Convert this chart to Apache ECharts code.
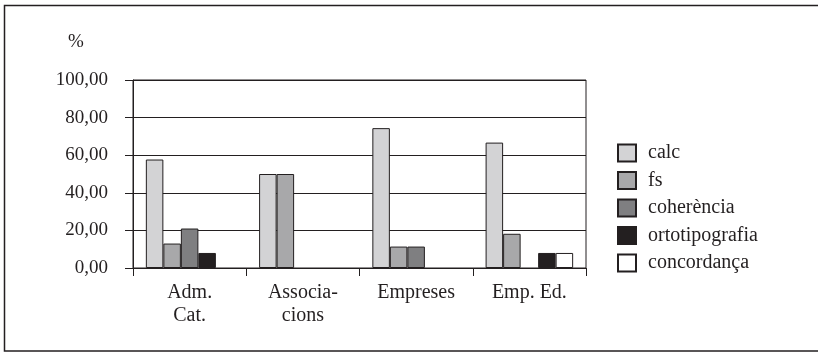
<!DOCTYPE html>
<html>
<head>
<meta charset="utf-8">
<script src="https://cdn.jsdelivr.net/npm/echarts@6/dist/echarts.min.js"></script>
<style>
  html, body { margin: 0; padding: 0; background: #fff; }
  #chart { width: 818px; height: 353px; }
</style>
</head>
<body>
<div id="chart"></div>
<script>
// Categories (organisation types) and share of each error type, in %
const categories = ['Adm.\nCat.', 'Associa-\ncions', 'Empreses', 'Emp. Ed.'];
const calc = [57.7, 50.0, 74.4, 66.7];
const fs = [13.0, 50.0, 11.4, 18.2];
const coherencia = [21.0, null, 11.4, null];
const ortotipografia = [8.0, null, null, 8.0];
const concordanca = [null, null, null, 8.0];
const yTicks = [0, 20, 40, 60, 80, 100];

const seriesDefs = [
  { name: 'calc', data: calc, color: '#d3d3d5' },
  { name: 'fs', data: fs, color: '#a8a8aa' },
  { name: 'coherència', data: coherencia, color: '#7f7f81' },
  { name: 'ortotipografia', data: ortotipografia, color: '#231f20' },
  { name: 'concordança', data: concordanca, color: '#ffffff' }
];

const FONT = 'Liberation Serif';
const INK = '#231f20';

const chart = echarts.init(document.getElementById('chart'), null, { renderer: 'canvas' });

chart.setOption({
  animation: false,
  backgroundColor: '#fff',
  textStyle: { fontFamily: FONT, color: INK },
  graphic: [
    {
      type: 'rect',
      shape: { x: 4.5, y: 5.5, width: 830, height: 345.5 },
      style: { fill: 'none', stroke: INK, lineWidth: 1.5 },
      silent: true
    },
    {
      type: 'text',
      left: 68, top: 33,
      style: { text: '%', font: '19px "' + FONT + '"', fill: INK }
    }
  ],
  grid: {
    left: 133, right: 232, top: 80, bottom: 85,
    show: true, borderColor: INK, borderWidth: 1
  },
  legend: {
    orient: 'vertical',
    left: 617, top: 143,
    padding: 0,
    itemWidth: 18, itemHeight: 17, itemGap: 7.5,
    icon: 'rect',
    textStyle: { fontFamily: FONT, fontSize: 20, color: INK, padding: [0, 0, 0, 7] },
    data: seriesDefs.map(s => s.name)
  },
  xAxis: {
    type: 'category',
    data: categories,
    axisLine: { lineStyle: { color: INK, width: 1 } },
    axisTick: { show: true, length: 8, lineStyle: { color: INK } },
    axisLabel: {
      margin: 13, fontFamily: FONT, fontSize: 20, color: INK, lineHeight: 23,
      interval: 0
    }
  },
  yAxis: {
    type: 'value',
    min: yTicks[0], max: yTicks[yTicks.length - 1], interval: 20,
    axisLine: { show: true, lineStyle: { color: INK, width: 1 } },
    axisTick: { show: true, length: 8, lineStyle: { color: INK } },
    splitLine: { lineStyle: { color: INK, width: 1 } },
    axisLabel: {
      margin: 25, fontFamily: FONT, fontSize: 19, color: INK,
      formatter: v => v.toFixed(2).replace('.', ',')
    }
  },
  series: seriesDefs.map(s => ({
    name: s.name,
    type: 'bar',
    data: s.data,
    barGap: '0%',
    barCategoryGap: '22.7%',
    itemStyle: { color: s.color, borderColor: INK, borderWidth: 1 }
  }))
});
</script>
</body>
</html>
